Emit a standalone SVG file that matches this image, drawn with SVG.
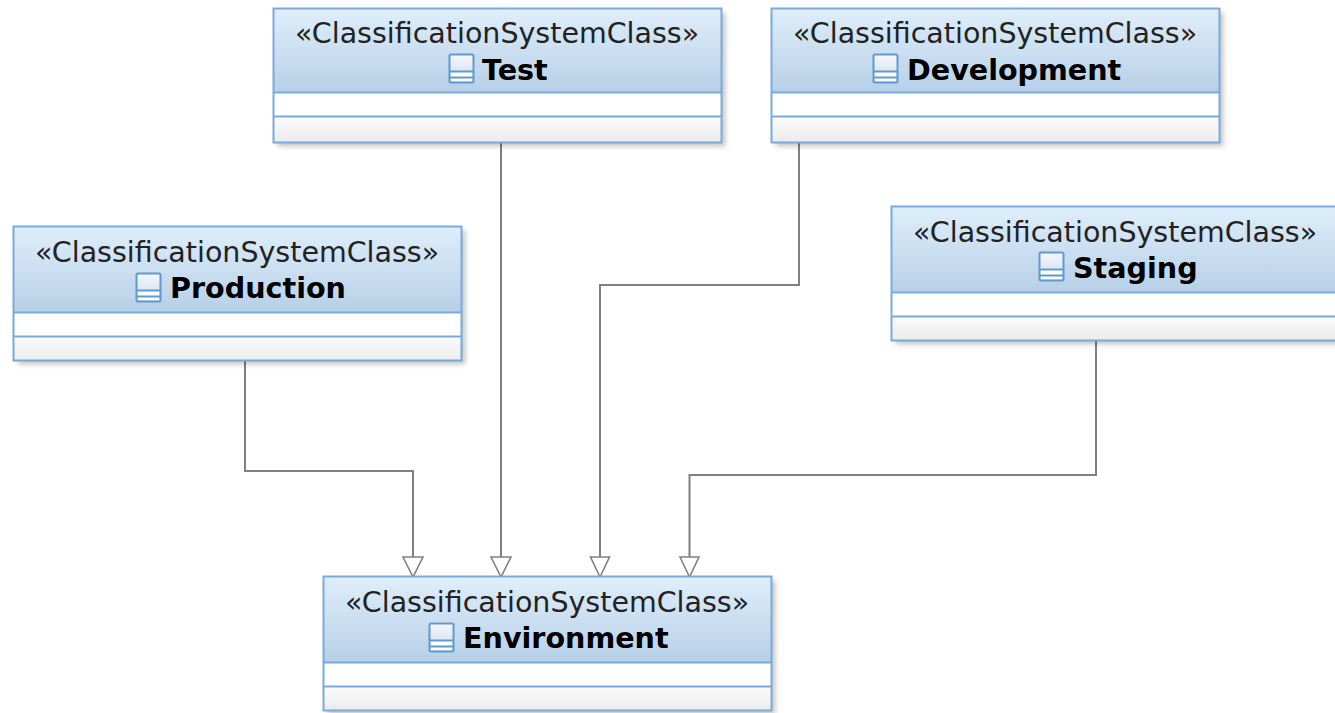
<svg xmlns="http://www.w3.org/2000/svg" width="1335" height="713" viewBox="0 0 1335 713">
<style>
.box{fill:none;stroke:#7aa9dc;stroke-width:2}
.st{font-family:"DejaVu Sans",sans-serif;font-size:28.5px;fill:#222;text-anchor:middle}
.nm{font-family:"DejaVu Sans",sans-serif;font-size:28.6px;font-weight:bold;fill:#000}
.cn{fill:none;stroke:#808080;stroke-width:2}
.ah{fill:#fff;stroke:#808080;stroke-width:1.6}
.sh{fill:#000;opacity:.22;filter:url(#b)}
</style>
<defs>
<filter id="b" x="-5%" y="-10%" width="110%" height="120%"><feGaussianBlur stdDeviation="2.5"/></filter>
<linearGradient id="h" x1="0" y1="0" x2="0" y2="1"><stop offset="0" stop-color="#dfeefb"/><stop offset="1" stop-color="#b7d0e7"/></linearGradient>
<linearGradient id="f" x1="0" y1="0" x2="0" y2="1"><stop offset="0" stop-color="#fcfcfc"/><stop offset="1" stop-color="#ebebeb"/></linearGradient>
<linearGradient id="ic" x1="0" y1="0" x2="0" y2="1"><stop offset="0" stop-color="#f6f8fc"/><stop offset="1" stop-color="#ccd9ea"/></linearGradient>
<g id="cls">
<rect class="sh" x="4" y="4" width="448" height="134"/>
<rect x="0" y="0" width="448" height="134" fill="#fff"/>
<rect x="0" y="0" width="448" height="84" fill="url(#h)"/>
<rect x="0" y="108" width="448" height="26" fill="url(#f)"/>
<path class="box" d="M0 84H448M0 108H448"/>
<rect class="box" x="0" y="0" width="448" height="134"/>
</g>
<g id="cls2">
<rect class="sh" x="4" y="4" width="448" height="134"/>
<rect x="0" y="0" width="448" height="134" fill="#fff"/>
<rect x="0" y="0" width="448" height="86" fill="url(#h)"/>
<rect x="0" y="110" width="448" height="24" fill="url(#f)"/>
<path class="box" d="M0 86H448M0 110H448"/>
<rect class="box" x="0" y="0" width="448" height="134"/>
</g>
<g id="icon">
<rect x="0" y="0" width="24" height="28" rx="1.500" fill="url(#ic)"/>
<rect x="1" y="17" width="22" height="10" fill="#fff"/>
<path d="M0 17H24M0 23H24" stroke="#5f9ad2" stroke-width="1.800" fill="none"/>
<rect x="0" y="0" width="24" height="28" rx="1.500" fill="none" stroke="#5f9ad2" stroke-width="2"/>
</g>
</defs>
<rect width="1335" height="713" fill="#fff"/>
<g id="connectors">
<path class="cn" d="M245 361V471H413V557"/>
<path class="ah" d="M403 557H423L413 577Z"/>
<path class="cn" d="M501 142V557"/>
<path class="ah" d="M491 557H511L501 577Z"/>
<path class="cn" d="M799 142V285H600V557"/>
<path class="ah" d="M590.500 557H609.500L600 577Z"/>
<path class="cn" d="M1096 341V475H689.500V557"/>
<path class="ah" d="M680 557H699L689.500 577Z"/>
</g>
<g id="test">
<use href="#cls" x="273.500" y="8.500"/>
<text class="st" x="497" y="43">«ClassificationSystemClass»</text>
<use href="#icon" x="449.500" y="54.500"/>
<text class="nm" x="482" y="79.500">Test</text>
</g>
<g id="development">
<use href="#cls" x="771.500" y="8.500"/>
<text class="st" x="995" y="43">«ClassificationSystemClass»</text>
<use href="#icon" x="873.500" y="54.500"/>
<text class="nm" x="907" y="79.500">Development</text>
</g>
<g id="production">
<use href="#cls2" x="13.500" y="226.500"/>
<text class="st" x="237" y="262">«ClassificationSystemClass»</text>
<use href="#icon" x="136.500" y="273.500"/>
<text class="nm" x="170" y="297.500">Production</text>
</g>
<g id="staging">
<use href="#cls2" x="891.500" y="206.500"/>
<text class="st" x="1115" y="242">«ClassificationSystemClass»</text>
<use href="#icon" x="1039.500" y="252.500"/>
<text class="nm" x="1073" y="277.500">Staging</text>
</g>
<g id="environment">
<use href="#cls2" x="323.500" y="576.500"/>
<text class="st" x="547" y="612">«ClassificationSystemClass»</text>
<use href="#icon" x="429.500" y="623.500"/>
<text class="nm" x="463" y="647.500">Environment</text>
</g>
</svg>
